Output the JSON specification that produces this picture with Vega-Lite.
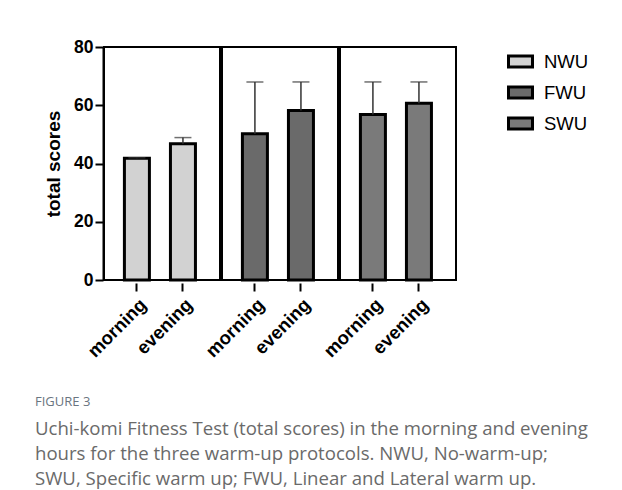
{
  "$schema": "https://vega.github.io/schema/vega-lite/v6.json",
  "padding": {"left": 35, "top": 38, "right": 0, "bottom": 0},
  "data": {
    "values": [
      {"protocol": "NWU", "time": "morning", "mean": 41.8, "upper": 42.0},
      {"protocol": "NWU", "time": "evening", "mean": 46.8, "upper": 48.9},
      {"protocol": "FWU", "time": "morning", "mean": 50.2, "upper": 68.0},
      {"protocol": "FWU", "time": "evening", "mean": 58.2, "upper": 68.0},
      {"protocol": "SWU", "time": "morning", "mean": 56.8, "upper": 68.0},
      {"protocol": "SWU", "time": "evening", "mean": 60.7, "upper": 68.0}
    ]
  },
  "title": {
    "text": "FIGURE 3",
    "subtitle": [
      "Uchi-komi Fitness Test (total scores) in the morning and evening",
      "hours for the three warm-up protocols. NWU, No-warm-up;",
      "SWU, Specific warm up; FWU, Linear and Lateral warm up."
    ],
    "orient": "bottom",
    "anchor": "start",
    "frame": "group",
    "dx": -69,
    "offset": 36,
    "font": "Open Sans",
    "fontSize": 13,
    "fontWeight": "normal",
    "color": "#6a7580",
    "subtitleFont": "Open Sans",
    "subtitleFontSize": 18.6,
    "subtitleColor": "#6a6a6a",
    "subtitleLineHeight": 25,
    "subtitlePadding": 11
  },
  "facet": {
    "column": {"field": "protocol", "type": "nominal", "sort": ["NWU", "FWU", "SWU"], "header": null}
  },
  "spacing": 0,
  "spec": {
    "width": 116,
    "height": 233,
    "layer": [
      {
        "mark": {"type": "bar", "stroke": "black", "strokeWidth": 3, "width": 25},
        "encoding": {
          "x": {"field": "time", "type": "nominal", "sort": ["morning", "evening"],
                "scale": {"paddingInner": 0.38, "paddingOuter": 0.45, "align": 0.45},
                "axis": {"title": null, "labelAngle": -45, "labelFontWeight": "bold", "labelFontSize": 18.5,
                         "labelFont": "Liberation Sans", "labelColor": "black", "tickSize": 8, "tickWidth": 2,
                         "tickColor": "black", "domain": false, "labelPadding": 4}},
          "y": {"field": "mean", "type": "quantitative",
                "scale": {"domain": [0, 80], "nice": false},
                "axis": {"title": "total scores", "values": [0, 20, 40, 60, 80], "grid": false,
                         "titleFont": "Liberation Sans", "titleFontSize": 19, "titleFontWeight": "bold", "titleColor": "black",
                         "labelFont": "Liberation Sans", "labelFontSize": 17.5, "labelFontWeight": "bold", "labelColor": "black",
                         "tickSize": 8, "tickWidth": 2, "tickColor": "black", "domainWidth": 2, "domainColor": "black", "titlePadding": 10}},
          "fill": {"field": "protocol", "type": "nominal", "sort": ["NWU", "FWU", "SWU"],
                   "scale": {"domain": ["NWU", "FWU", "SWU"], "range": ["#d2d2d2", "#6a6a6a", "#7a7a7a"]},
                   "legend": {"title": null, "orient": "right", "offset": 49, "padding": 3,
                              "symbolType": "M-1.2,-0.55H1.2V0.55H-1.2Z", "symbolSize": 400,
                              "symbolStrokeColor": "black", "symbolStrokeWidth": 3,
                              "labelFont": "Liberation Sans", "labelFontSize": 18.5, "labelColor": "black",
                              "rowPadding": 8, "labelOffset": 12}}
        }
      },
      {
        "mark": {"type": "rule", "color": "#333333", "strokeWidth": 1.5},
        "encoding": {
          "x": {"field": "time", "type": "nominal", "sort": ["morning", "evening"]},
          "y": {"field": "mean", "type": "quantitative"},
          "y2": {"field": "upper"}
        }
      },
      {
        "mark": {"type": "tick", "color": "#333333", "thickness": 1.5, "size": 17},
        "encoding": {
          "x": {"field": "time", "type": "nominal", "sort": ["morning", "evening"]},
          "y": {"field": "upper", "type": "quantitative"}
        }
      }
    ]
  },
  "config": {
    "view": {"stroke": "black", "strokeWidth": 2},
    "background": "white"
  }
}
